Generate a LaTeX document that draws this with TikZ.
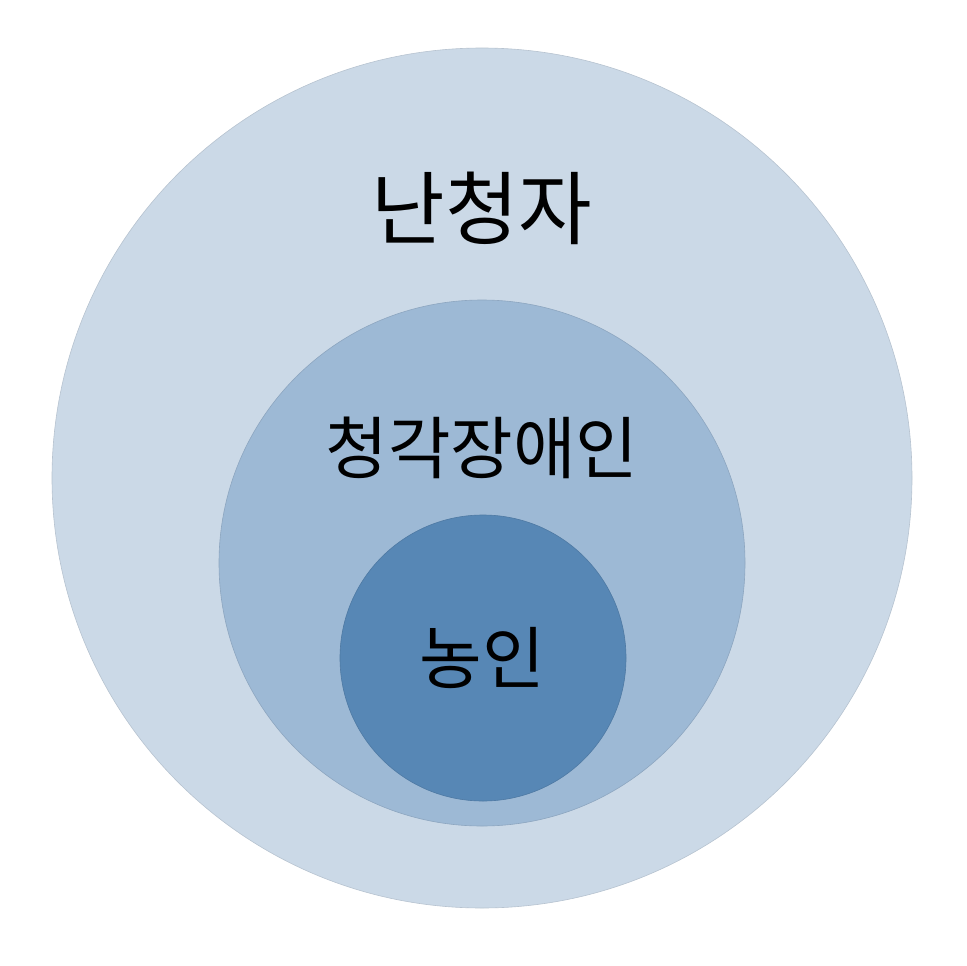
\documentclass[tikz,border=0pt]{standalone}
\usepackage{fontspec}
\newfontfamily\krfont{Noto Sans CJK KR}
\definecolor{outerBlue}{HTML}{CBD9E7}
\definecolor{middleBlue}{HTML}{9DB9D5}
\definecolor{innerBlue}{HTML}{5787B5}
\begin{document}
\begin{tikzpicture}
[x=1pt,y=-1pt,
  ringDecorate/.style={shape=circle,inner sep=0pt,draw=#1!90!black,line width=0.6pt,fill=#1},
  labelDecorate/.style={font=\krfont,text=black}]
\useasboundingbox (0,0) rectangle (966,966);
%% nested circles
\node (outer) at (482,478) [ringDecorate=outerBlue,minimum size=860pt] {};
\node (middle) at (482,563) [ringDecorate=middleBlue,minimum size=526pt] {};
\node (inner) at (483,658) [ringDecorate=innerBlue,minimum size=286pt] {};
%% labels
\node (outerLabel) at (482,208) [labelDecorate] {\fontsize{80}{80}\selectfont 난청자};
\node (middleLabel) at (482,448) [labelDecorate] {\fontsize{68}{68}\selectfont 청각장애인};
\node (innerLabel) at (482,658) [labelDecorate] {\fontsize{68}{68}\selectfont 농인};
\end{tikzpicture}
\end{document}
